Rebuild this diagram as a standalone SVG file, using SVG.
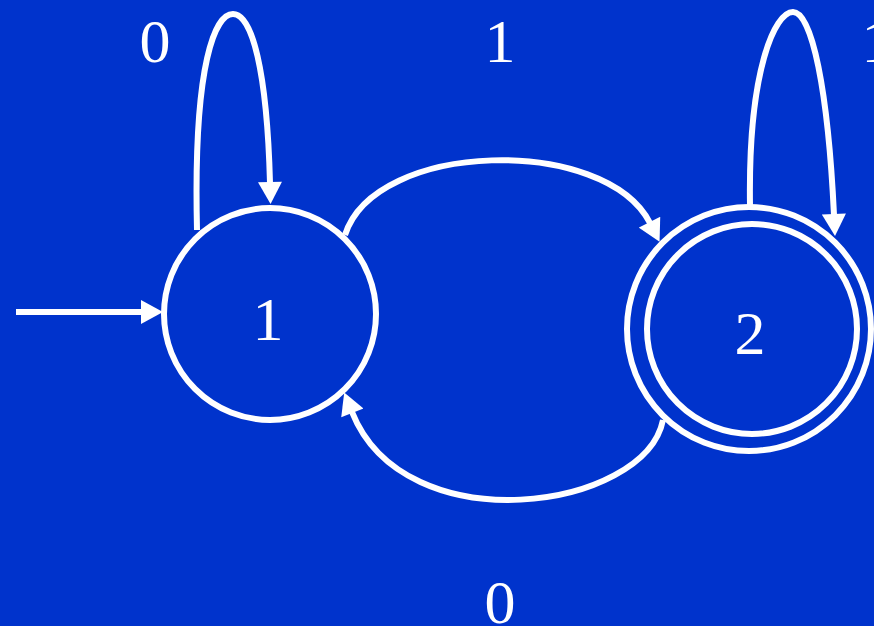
<svg xmlns="http://www.w3.org/2000/svg" width="874" height="626" viewBox="0 0 874 626">
<style>
.st{fill:none;stroke:#fff;stroke-width:6}
.ed{fill:none;stroke:#fff;stroke-width:6;marker-end:url(#ah)}
.lb{font-family:"Liberation Serif","Times New Roman",serif;font-size:62px;fill:#fff;text-anchor:middle}
</style>
<defs>
<marker id="ah" markerUnits="userSpaceOnUse" markerWidth="24" markerHeight="24" viewBox="0 0 22 24" refX="1" refY="12" orient="auto">
<path d="M0,0 L22,12 L0,24 Z" fill="#fff"/>
</marker>
</defs>
<rect width="874" height="626" fill="#0033cc"/>
<g id="connectors">
<path class="ed" d="M16,312 L142,312"/>
<path class="ed" d="M197,230 C193,60 216,14 233,14 C252,14 267,70 270,183"/>
<path class="ed" d="M750,205 C748,70 775,12 793,12 C812,12 828,90 834,215"/>
<path class="ed" d="M345,235 C375,140 605,135 650,223"/>
<path class="ed" d="M663,420 C645,510 405,545 352,412"/>
</g>
<g id="state1">
<circle class="st" cx="270" cy="314" r="106"/>
<text class="lb" x="268" y="340">1</text>
</g>
<g id="state2">
<circle class="st" cx="749" cy="329" r="122"/>
<circle class="st" cx="752" cy="329" r="105"/>
<text class="lb" x="750" y="354">2</text>
</g>
<g id="labels">
<text class="lb" x="155" y="62">0</text>
<text class="lb" x="500" y="62">1</text>
<text class="lb" x="877" y="62">1</text>
<text class="lb" x="500" y="623">0</text>
</g>
</svg>
